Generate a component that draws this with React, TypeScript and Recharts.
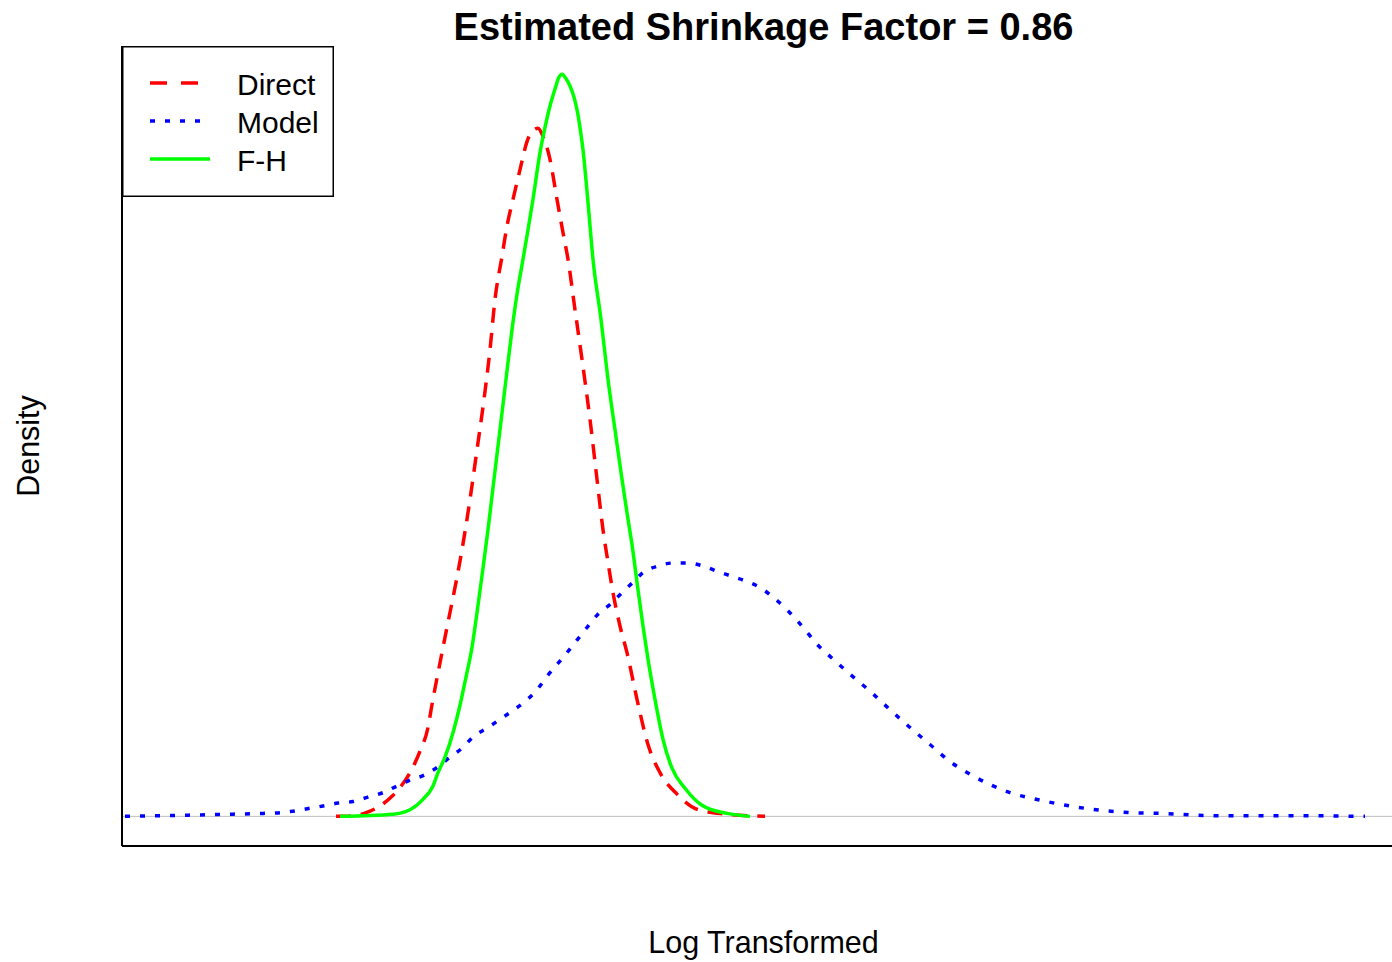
import React from "react";
import {
  LineChart,
  Line,
  XAxis,
  YAxis,
  ReferenceLine,
  Legend,
} from "recharts";

// density estimates: [log value, density]
const direct: [number, number][] = [
  [2.14, 0], [2.33, 0.001], [2.48, 0.007], [2.58, 0.014], [2.7, 0.027],
  [2.78, 0.039], [2.88, 0.059], [2.98, 0.088], [3.06, 0.12], [3.1, 0.151],
  [3.2, 0.221], [3.26, 0.262], [3.32, 0.302], [3.4, 0.36], [3.48, 0.428],
  [3.55, 0.495], [3.62, 0.563], [3.68, 0.63], [3.73, 0.698], [3.8, 0.756],
  [3.85, 0.797], [3.91, 0.833], [3.98, 0.873], [4.05, 0.911], [4.11, 0.926],
  [4.16, 0.929], [4.21, 0.918], [4.28, 0.887], [4.35, 0.833], [4.41, 0.788],
  [4.46, 0.752], [4.53, 0.684], [4.6, 0.617], [4.68, 0.536], [4.75, 0.455],
  [4.81, 0.387], [4.86, 0.343], [4.91, 0.302], [4.98, 0.257], [5.05, 0.221],
  [5.15, 0.158], [5.26, 0.097], [5.38, 0.059], [5.55, 0.03], [5.78, 0.008],
  [6.05, 0.003], [6.43, 0],
];

const model: [number, number][] = [
  [0.03, 0], [1.11, 0.003], [1.41, 0.004], [1.58, 0.005], [1.71, 0.007],
  [1.88, 0.011], [2.01, 0.014], [2.16, 0.018], [2.31, 0.02], [2.46, 0.026],
  [2.61, 0.032], [2.75, 0.041], [2.88, 0.049], [3.01, 0.055], [3.15, 0.066],
  [3.28, 0.08], [3.4, 0.092], [3.51, 0.107], [3.66, 0.12], [3.78, 0.131],
  [3.91, 0.143], [4.03, 0.155], [4.15, 0.171], [4.25, 0.189], [4.35, 0.205],
  [4.45, 0.221], [4.55, 0.238], [4.65, 0.255], [4.76, 0.273], [4.88, 0.286],
  [5.0, 0.302], [5.11, 0.316], [5.21, 0.329], [5.36, 0.338], [5.51, 0.342],
  [5.66, 0.342], [5.81, 0.338], [5.95, 0.331], [6.1, 0.324], [6.25, 0.317],
  [6.38, 0.309], [6.51, 0.296], [6.65, 0.279], [6.76, 0.263], [6.86, 0.247],
  [6.96, 0.231], [7.08, 0.216], [7.28, 0.192], [7.48, 0.169], [7.68, 0.144],
  [7.88, 0.12], [8.08, 0.097], [8.28, 0.074], [8.48, 0.057], [8.68, 0.043],
  [8.88, 0.032], [9.18, 0.022], [9.48, 0.014], [9.81, 0.008], [10.11, 0.005],
  [10.41, 0.004], [10.88, 0.001], [11.58, 0.001], [12.43, 0],
];

const fh: [number, number][] = [
  [2.18, 0], [2.71, 0.003], [2.88, 0.009], [3.01, 0.023], [3.11, 0.041],
  [3.16, 0.059], [3.23, 0.08], [3.31, 0.113], [3.38, 0.15], [3.44, 0.188],
  [3.5, 0.228], [3.55, 0.275], [3.6, 0.325], [3.66, 0.387], [3.72, 0.455],
  [3.78, 0.522], [3.84, 0.59], [3.9, 0.657], [3.95, 0.705], [4.01, 0.752],
  [4.06, 0.792], [4.11, 0.833], [4.18, 0.896], [4.23, 0.93], [4.28, 0.959],
  [4.33, 0.982], [4.37, 0.998], [4.4, 1.002], [4.44, 0.996], [4.48, 0.986],
  [4.52, 0.971], [4.55, 0.954], [4.58, 0.93], [4.61, 0.9], [4.66, 0.829],
  [4.71, 0.752], [4.79, 0.671], [4.86, 0.59], [4.93, 0.522], [5.0, 0.455],
  [5.06, 0.401], [5.1, 0.367], [5.15, 0.316], [5.21, 0.257], [5.26, 0.212],
  [5.33, 0.158], [5.41, 0.104], [5.5, 0.065], [5.63, 0.038], [5.8, 0.015],
  [6.05, 0.004], [6.28, 0],
];

const seriesNames = ["Direct", "Model", "F-H"];
const seriesColors = ["#ff0000", "#0000ff", "#00ff00"];
const legendDash = ["17 14", "5 10", undefined];

const toRows = (pts: [number, number][]) => pts.map(([x, y]) => ({ x, y }));

const font = '"Liberation Sans", Arial, sans-serif';

function LegendBox() {
  return (
    <svg width={212} height={151} style={{ display: "block" }}>
      <rect x={0.75} y={0.75} width={210.5} height={149.5} fill="#fff" stroke="#000" strokeWidth={1.5} />
      {seriesNames.map((name, i) => (
        <g key={name}>
          <line
            x1={28}
            x2={88}
            y1={37 + i * 38}
            y2={37 + i * 38}
            stroke={seriesColors[i]}
            strokeWidth={3.5}
            strokeDasharray={legendDash[i]}
          />
          <text x={115} y={49 + i * 38} fontSize={30} fontFamily={font} fill="#000">
            {name}
          </text>
        </g>
      ))}
    </svg>
  );
}

export default function App() {
  return (
    <div style={{ position: "absolute", left: 0, top: 0, width: 1392, height: 962, background: "#fff", fontFamily: font }}>
      <LineChart width={1392} height={962} margin={{ top: 46, right: 0, bottom: 116, left: 122 }}>
        <XAxis type="number" dataKey="x" domain={[0, 12.7]} allowDataOverflow hide />
        <YAxis type="number" domain={[-0.04, 1.04]} allowDataOverflow hide />
        <ReferenceLine y={0} stroke="#bebebe" strokeWidth={1} />
        <ReferenceLine x={0} stroke="#000" strokeWidth={2} />
        <ReferenceLine y={-0.04} stroke="#000" strokeWidth={2} />
        <Legend
          layout="vertical"
          align="center"
          verticalAlign="middle"
          wrapperStyle={{ left: 122, top: 46, width: 212, height: 151 }}
          content={() => <LegendBox />}
        />
        <Line
          data={toRows(direct)}
          dataKey="y"
          name="Direct"
          type="monotone"
          stroke="#ff0000"
          strokeWidth={3.5}
          strokeDasharray="15 10"
          dot={false}
          activeDot={false}
          isAnimationActive={false}
        />
        <Line
          data={toRows(model)}
          dataKey="y"
          name="Model"
          type="monotone"
          stroke="#0000ff"
          strokeWidth={3.5}
          strokeDasharray="5 10"
          dot={false}
          activeDot={false}
          isAnimationActive={false}
        />
        <Line
          data={toRows(fh)}
          dataKey="y"
          name="F-H"
          type="monotone"
          stroke="#00ff00"
          strokeWidth={3.5}
          dot={false}
          activeDot={false}
          isAnimationActive={false}
        />
      </LineChart>
      <div
        style={{
          position: "absolute",
          left: 763.5,
          top: 8,
          transform: "translateX(-50%)",
          fontSize: 38,
          fontWeight: "bold",
          lineHeight: 1,
          whiteSpace: "nowrap",
        }}
      >
        Estimated Shrinkage Factor = 0.86
      </div>
      <div
        style={{
          position: "absolute",
          left: 763.5,
          top: 926.5,
          transform: "translateX(-50%)",
          fontSize: 30.5,
          lineHeight: 1,
          whiteSpace: "nowrap",
        }}
      >
        Log Transformed
      </div>
      <div
        style={{
          position: "absolute",
          left: -72.4,
          top: 431,
          width: 200,
          height: 30,
          fontSize: 30.5,
          lineHeight: "30px",
          textAlign: "center",
          transform: "rotate(-90deg)",
          whiteSpace: "nowrap",
        }}
      >
        Density
      </div>
    </div>
  );
}
